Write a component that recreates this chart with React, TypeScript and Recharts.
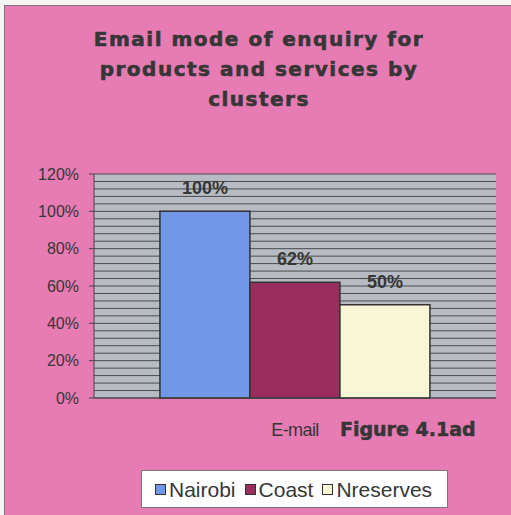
import React from 'react'
import { Bar, BarChart, CartesianGrid, LabelList, Legend, XAxis, YAxis } from 'recharts'

const categories = ['E-mail']
const nairobi = [100]
const coast = [62]
const nreserves = [50]
const yTicks = [0, 20, 40, 60, 80, 100, 120]
const minorGrid = Array.from({ length: 31 }, (_, i) => i * 4)

const series = [
  { key: 'Nairobi', values: nairobi, color: '#7098E6' },
  { key: 'Coast', values: coast, color: '#992E5E' },
  { key: 'Nreserves', values: nreserves, color: '#F8F6D4' },
]

const data = categories.map((name, i) => {
  const row: Record<string, string | number> = { name }
  series.forEach((s) => {
    row[s.key] = s.values[i]
  })
  return row
})

const textColor = '#363636'
const arial = '"Liberation Sans", Arial, sans-serif'
const heavy = '"DejaVu Sans", sans-serif'

const LegendBox = () => (
  <div
    style={{
      display: 'flex',
      alignItems: 'center',
      height: 38,
      background: '#ffffff',
      border: '1px solid #777',
      boxSizing: 'border-box',
      paddingLeft: 13,
      paddingTop: 1,
      fontFamily: arial,
      fontSize: 21,
      color: textColor,
    }}
  >
    {series.map((s) => (
      <span key={s.key} style={{ display: 'flex', alignItems: 'center', marginRight: 9 }}>
        <span
          style={{
            display: 'inline-block',
            width: 9,
            height: 9,
            background: s.color,
            border: '1px solid #333',
            marginRight: 3,
          }}
        />
        {s.key}
      </span>
    ))}
  </div>
)

export default function App() {
  return (
    <div style={{ position: 'absolute', left: 0, top: 0, width: 511, height: 515, background: '#f4f4f4' }}>
      <div
        style={{
          position: 'absolute',
          left: 4,
          top: 5,
          width: 507,
          height: 510,
          background: '#E67CB3',
          borderLeft: '1px solid #777',
          borderTop: '1px solid #777',
        }}
      />
      <div
        style={{
          position: 'absolute',
          left: 0,
          top: 24,
          width: 518,
          textAlign: 'center',
          fontFamily: heavy,
          fontWeight: 'bold',
          fontSize: 20,
          lineHeight: '30px',
          letterSpacing: 1.5,
          color: textColor,
          WebkitTextStroke: '0.6px #363636',
        }}
      >
        Email mode of enquiry for
        <br />
        products and services by
        <br />
        clusters
      </div>
      <div
        style={{
          position: 'absolute',
          left: 340,
          top: 418,
          fontFamily: heavy,
          fontWeight: 'bold',
          fontSize: 19,
          color: textColor,
          WebkitTextStroke: '0.5px #363636',
        }}
      >
        Figure 4.1ad
      </div>
      <div style={{ position: 'absolute', left: 0, top: 0 }}>
        <BarChart
          width={511}
          height={515}
          data={data}
          margin={{ top: 174, right: 15, bottom: 0, left: 0 }}
          barCategoryGap="16.4%"
          barGap={0}
        >
          <CartesianGrid
            vertical={false}
            horizontalValues={minorGrid}
            stroke="#4a4a4a"
            strokeWidth={1}
            fill="#B7BCC4"
            fillOpacity={1}
          />
          <XAxis
            dataKey="name"
            height={79}
            tickLine={false}
            axisLine={{ stroke: '#444' }}
            tick={{ fill: textColor, fontSize: 18, fontFamily: arial, letterSpacing: -0.6 }}
            tickMargin={19}
          />
          <YAxis
            width={94}
            domain={[0, 120]}
            ticks={yTicks}
            tickFormatter={(v) => `${v}%`}
            axisLine={{ stroke: '#444' }}
            tickLine={{ stroke: '#444' }}
            tickSize={5}
            tickMargin={10}
            tick={{ fill: textColor, fontSize: 16, fontFamily: arial }}
            interval={0}
          />
          <Legend
            content={<LegendBox />}
            wrapperStyle={{ position: 'absolute', left: 141, top: 470, width: 307, height: 38 }}
          />
          {series.map((s) => (
            <Bar
              key={s.key}
              dataKey={s.key}
              fill={s.color}
              stroke="#333"
              strokeWidth={1.5}
              isAnimationActive={false}
            >
              <LabelList
                dataKey={s.key}
                position="top"
                offset={17}
                formatter={(v: number) => `${v}%`}
                style={{ fill: textColor, fontSize: 18, fontWeight: 'bold', fontFamily: arial }}
              />
            </Bar>
          ))}
        </BarChart>
      </div>
    </div>
  )
}
